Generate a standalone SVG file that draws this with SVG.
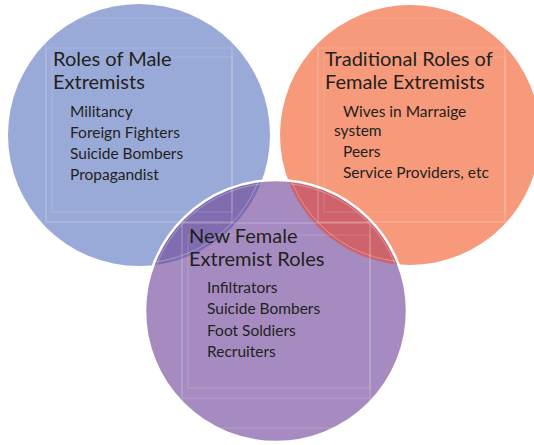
<svg xmlns="http://www.w3.org/2000/svg" width="534" height="445" viewBox="0 0 534 445">
  <style>
    .title { font-family: Lato, "Open Sans", "Liberation Sans", sans-serif; font-size: 20px; fill: #231f20; }
    .item { font-family: Lato, "Open Sans", "Liberation Sans", sans-serif; font-size: 15.5px; fill: #231f20; }
    .frame { fill: none; stroke: #ffffff; stroke-opacity: 0.16; stroke-width: 1; }
    .rim { fill: none; stroke: #ffffff; stroke-opacity: 0.3; stroke-width: 1; }
  </style>
  <defs>
    <clipPath id="clipBlue"><circle cx="139" cy="135" r="131"/></clipPath>
    <clipPath id="clipOrange"><circle cx="410" cy="135" r="130"/></clipPath>
    <clipPath id="clipPurple"><circle cx="276" cy="311" r="131"/></clipPath>
  </defs>

  <rect width="534" height="445" fill="#ffffff"/>

  <!-- Male extremists circle -->
  <g id="male">
    <circle cx="139" cy="135" r="131" fill="#9aaad8"/>
  </g>

  <!-- Traditional female extremists circle -->
  <g id="traditional">
    <circle cx="410" cy="135" r="130" fill="#f69a7b"/>
  </g>

  <!-- New female extremist circle with overlaps -->
  <g id="new-female">
    <circle cx="276" cy="311" r="131" fill="#a68bc0"/>
    <g clip-path="url(#clipPurple)">
      <circle cx="139" cy="135" r="131" fill="#7f6db0"/>
      <circle cx="410" cy="135" r="130" fill="#ce636b"/>
      <circle cx="139" cy="135" r="128" class="rim"/>
      <circle cx="410" cy="135" r="127" class="rim"/>
    </g>
    <circle cx="276" cy="311" r="128" class="rim" clip-path="url(#clipBlue)"/>
    <circle cx="276" cy="311" r="128" class="rim" clip-path="url(#clipOrange)"/>
    <circle cx="276" cy="311" r="131" fill="none" stroke="#ffffff" stroke-width="2.5"/>
  </g>

  <!-- text frames -->
  <g id="frames">
    <g clip-path="url(#clipBlue)">
      <rect x="46" y="18" width="186" height="204" class="frame"/>
      <rect x="46" y="48" width="186" height="174" class="frame"/>
      <rect x="52" y="57" width="180" height="155" class="frame"/>
    </g>
    <g clip-path="url(#clipOrange)">
      <rect x="318" y="18" width="187" height="204" class="frame"/>
      <rect x="318" y="48" width="187" height="174" class="frame"/>
      <rect x="324" y="57" width="181" height="155" class="frame"/>
    </g>
    <g clip-path="url(#clipPurple)">
      <rect x="182" y="223" width="188" height="205" class="frame"/>
      <rect x="182" y="223" width="188" height="175" class="frame"/>
      <rect x="188" y="235" width="182" height="153" class="frame"/>
    </g>
  </g>

  <!-- labels -->
  <g id="male-text">
    <text class="title" x="53" y="66">Roles of Male</text>
    <text class="title" x="53" y="89">Extremists</text>
    <text class="item" x="70" y="117">Militancy</text>
    <text class="item" x="70" y="138">Foreign Fighters</text>
    <text class="item" x="70" y="159">Suicide Bombers</text>
    <text class="item" x="70" y="180">Propagandist</text>
  </g>
  <g id="traditional-text">
    <text class="title" x="325" y="66">Traditional Roles of</text>
    <text class="title" x="325" y="89">Female Extremists</text>
    <text class="item" x="343" y="117">Wives in Marraige</text>
    <text class="item" x="334" y="136">system</text>
    <text class="item" x="343" y="157">Peers</text>
    <text class="item" x="343" y="178">Service Providers, etc</text>
  </g>
  <g id="new-female-text">
    <text class="title" x="189" y="243">New Female</text>
    <text class="title" x="189" y="266">Extremist Roles</text>
    <text class="item" x="207" y="293">Infiltrators</text>
    <text class="item" x="207" y="314">Suicide Bombers</text>
    <text class="item" x="207" y="336">Foot Soldiers</text>
    <text class="item" x="207" y="357">Recruiters</text>
  </g>
</svg>
